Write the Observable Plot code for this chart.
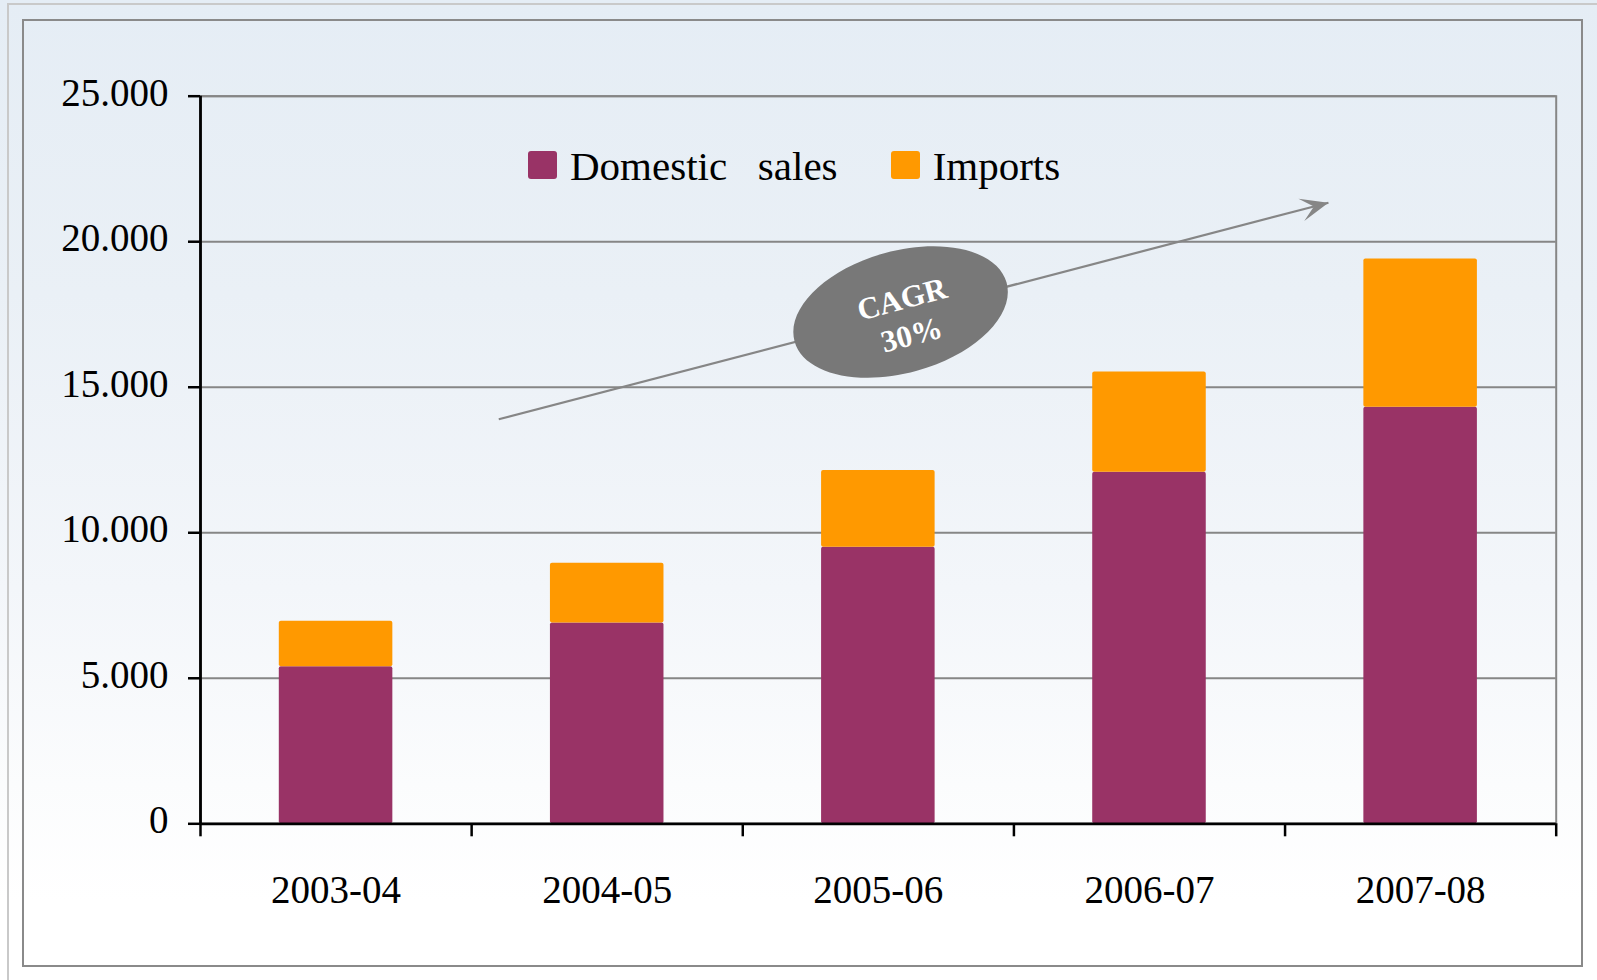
<!DOCTYPE html>
<html><head><meta charset="utf-8">
<script src="https://cdn.jsdelivr.net/npm/d3@7"></script>
<script src="https://cdn.jsdelivr.net/npm/@observablehq/plot@0.6"></script>
<style>
html,body{margin:0;padding:0;background:#fff;}
#page{position:relative;width:1597px;height:980px;overflow:hidden;background:linear-gradient(to bottom,#e5edf5 0%,#eaf0f6 30%,#f3f6fa 60%,#fbfcfd 80%,#ffffff 92%);font-family:"Liberation Serif",serif;}
#outer{position:absolute;left:7px;top:3px;width:1650px;height:1050px;border-left:2px solid #c9c9c9;border-top:2px solid #c9c9c9;}
#inner{position:absolute;left:22px;top:19px;width:1561px;height:948px;box-sizing:border-box;border:2.5px solid #8a8a8a;}
#chart{position:absolute;left:0;top:0;}
#legend{position:absolute;left:528.3px;top:145.7px;display:flex;gap:53.4px;}
.item{display:flex;align-items:flex-start;}
.sw{width:29px;height:28.6px;border-radius:3px;margin-top:5px;margin-right:12.7px;}
.lab{font-size:41px;line-height:41px;white-space:pre;color:#000;font-family:"Liberation Serif",serif;}
</style></head>
<body>
<div id="page">
  <div id="outer"></div>
  <div id="inner"></div>
  <div id="chart"></div>
  <div id="legend"></div>
</div>
<script>
// ---- data ----
const categories = ["2003-04", "2004-05", "2005-06", "2006-07", "2007-08"];
const seriesNames = ["Domestic   sales", "Imports"];
const seriesColors = ["#993366", "#FF9900"];
const domestic = [5400, 6900, 9500, 12080, 14310];
const imports = [1560, 2050, 2640, 3440, 5100];
const yTicks = [0, 5000, 10000, 15000, 20000, 25000];
const yTickLabels = ["0", "5.000", "10.000", "15.000", "20.000", "25.000"];
const cagrLabel = ["CAGR\n30%"];
const cagrArrow = [{x1: 1.1, y1: 13900, x2: 4.16, y2: 21340}];
const cagrBubble = [{x: 2.582, y: 17585}];
const cagrText = [{x: 2.603, y: 17470}];

// ---- table for the library ----
const rows = [];
categories.forEach((c, i) => {
  rows.push({cat: c, x1: i, x2: i + 1, series: seriesNames[0], value: domestic[i]});
  rows.push({cat: c, x1: i, x2: i + 1, series: seriesNames[1], value: imports[i]});
});
const bounds = d3.range(categories.length + 1);
const centers = categories.map((c, i) => i + 0.5);

// custom symbols
const K = 0.5523;
const ellipseSymbol = {
  draw(ctx) {
    const a = 110, b = 61;
    ctx.moveTo(a, 0);
    ctx.bezierCurveTo(a, K * b, K * a, b, 0, b);
    ctx.bezierCurveTo(-K * a, b, -a, K * b, -a, 0);
    ctx.bezierCurveTo(-a, -K * b, -K * a, -b, 0, -b);
    ctx.bezierCurveTo(K * a, -b, a, -K * b, a, 0);
    ctx.closePath();
  }
};
const headSymbol = {
  draw(ctx) {
    ctx.moveTo(0, 0);
    ctx.lineTo(-28, -11.5);
    ctx.lineTo(-15, 0);
    ctx.lineTo(-28, 11.5);
    ctx.closePath();
  }
};

const plot = Plot.plot({
  width: 1597,
  height: 980,
  marginLeft: 200,
  marginRight: 41.3,
  marginTop: 95.7,
  marginBottom: 156.7,
  style: {background: "transparent", fontFamily: "Liberation Serif, serif", color: "black", overflow: "visible"},
  x: {domain: [0, categories.length]},
  y: {domain: [0, 25000]},
  color: {domain: seriesNames, range: seriesColors},
  marks: [
    Plot.gridY(yTicks.slice(1), {stroke: "#868686", strokeOpacity: 1, strokeWidth: 2}),
    Plot.frame({stroke: "#868686", strokeWidth: 2}),
    Plot.rect(rows, Plot.stackY({x1: "x1", x2: "x2", y: "value", fill: "series", insetLeft: 78.8, insetRight: 78.8, rx: 2})),
    Plot.link(cagrArrow, {x1: "x1", y1: "y1", x2: "x2", y2: "y2", stroke: "#868686", strokeWidth: 2.2}),
    Plot.dot(cagrArrow, {x: "x2", y: "y2", symbol: headSymbol, fill: "#868686", stroke: null, rotate: -14.6, r: 10}),
    Plot.dot(cagrBubble, {x: "x", y: "y", symbol: ellipseSymbol, fill: "#787878", stroke: null, rotate: -15.5, r: 50}),
    Plot.text(cagrText, {x: "x", y: "y", text: () => cagrLabel[0], fill: "white", fontSize: 31, fontWeight: "bold", rotate: -15, lineHeight: 1.2, textAnchor: "middle", lineAnchor: "middle", fontFamily: "Liberation Serif, serif"}),
    Plot.axisY(yTicks, {tickSize: 12, tickFormat: () => "", stroke: "black", strokeWidth: 2.5}),
    Plot.axisY(yTicks, {tickSize: 0, tickPadding: 32, tickFormat: d => yTickLabels[yTicks.indexOf(d)], fontSize: 39, fill: "black", dy: -3}),
    Plot.axisX(bounds, {tickSize: 13, tickFormat: () => "", stroke: "black", strokeWidth: 2.5}),
    Plot.axisX(centers, {tickSize: 0, tickPadding: 51.7, tickFormat: d => categories[Math.floor(d)], fontSize: 39, fill: "black"}),
    Plot.ruleX([0], {stroke: "black", strokeWidth: 2.8}),
    Plot.ruleY([0], {stroke: "black", strokeWidth: 2.8})
  ]
});
document.getElementById("chart").appendChild(plot);

// legend
const legend = document.getElementById("legend");
seriesNames.forEach((name, i) => {
  const item = document.createElement("div");
  item.className = "item";
  const sw = document.createElement("div");
  sw.className = "sw";
  sw.style.background = seriesColors[i];
  const lab = document.createElement("span");
  lab.className = "lab";
  lab.textContent = name;
  item.appendChild(sw);
  item.appendChild(lab);
  legend.appendChild(item);
});
</script>
</body></html>
